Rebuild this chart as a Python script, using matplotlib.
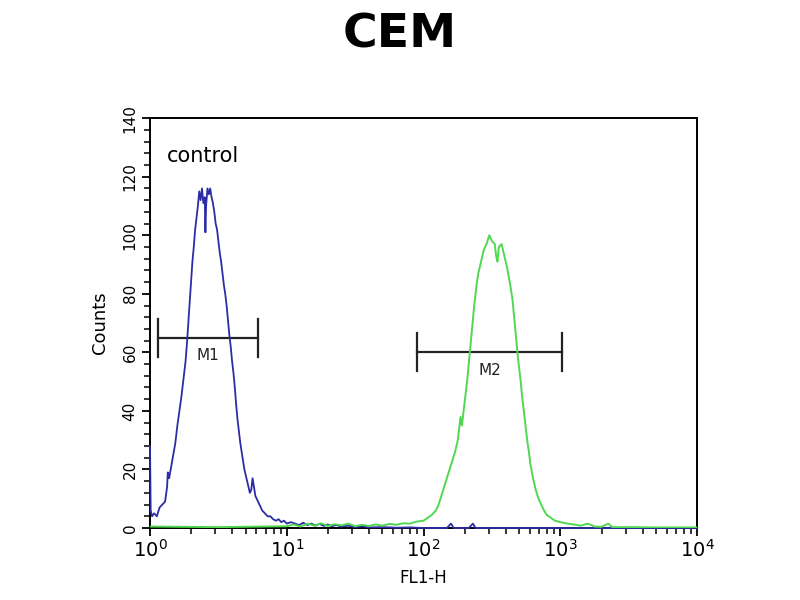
import matplotlib
matplotlib.use('Agg')
import matplotlib.pyplot as plt
import numpy as np
from matplotlib.ticker import MultipleLocator, LogLocator, NullFormatter

plt.rcParams['font.family'] = ['DejaVu Sans']

# control histogram (blue): log10(FL1-H) position and counts
blue_log = [0.000, 0.005, 0.015, 0.03, 0.05, 0.07, 0.09, 0.11, 0.125, 0.13, 0.14, 0.155, 0.17, 0.185,
            0.20, 0.215, 0.23, 0.245, 0.26, 0.27, 0.28, 0.29, 0.30, 0.31, 0.32, 0.33, 0.34, 0.35,
            0.36, 0.37, 0.38, 0.39, 0.40, 0.405, 0.41, 0.42, 0.43, 0.44, 0.45, 0.46, 0.47, 0.48,
            0.49, 0.50, 0.51, 0.52, 0.53, 0.54, 0.55, 0.56, 0.57, 0.58, 0.59, 0.60, 0.61, 0.62,
            0.63, 0.64, 0.65, 0.66, 0.67, 0.68, 0.69, 0.70, 0.71, 0.72, 0.73, 0.74, 0.75, 0.76,
            0.77, 0.78, 0.79, 0.80, 0.82, 0.84, 0.86, 0.88, 0.90, 0.92, 0.94, 0.96, 0.98, 1.00,
            1.03, 1.06, 1.09, 1.12, 1.15, 1.18, 1.21, 1.24, 1.27, 1.30, 1.33, 1.36, 1.40, 1.45,
            1.50, 1.55, 1.60, 1.70, 1.80, 1.90, 2.00, 2.17, 2.20, 2.22, 2.33, 2.36, 2.38, 3.00, 4.00]
blue_counts = [28, 6, 4, 5, 4, 7, 8, 9, 14, 19, 17, 21, 25, 29,
               35, 40, 45, 51, 57, 63, 70, 77, 84, 91, 96, 102, 106, 110,
               115, 112, 116, 111, 113, 101, 110, 116, 114, 116, 113, 111, 108, 104,
               102, 98, 94, 91, 87, 83, 80, 76, 71, 66, 62, 57, 53, 48,
               42, 37, 33, 29, 26, 23, 20, 18, 16, 14, 12, 13, 17, 14,
               11, 10, 9, 8, 6, 5, 4, 4, 3, 2.5, 3, 2, 2.5, 1.5,
               2, 1.5, 1, 1.8, 1, 1.5, 0.8, 1.4, 0.7, 1.2, 0.6, 1.0, 0.5, 0.8,
               0.3, 0.6, 0.2, 0.3, 0.1, 0.2, 0, 0, 1.5, 0, 0, 1.5, 0, 0, 0]

# stained sample histogram (green)
green_log = [0.00, 0.50, 1.00, 1.05, 1.10, 1.15, 1.20, 1.25, 1.30, 1.35, 1.40, 1.45, 1.50, 1.55,
             1.60, 1.65, 1.70, 1.75, 1.80, 1.85, 1.90, 1.95, 2.00, 2.03, 2.06, 2.09, 2.11, 2.13,
             2.15, 2.17, 2.19, 2.21, 2.23, 2.25, 2.26, 2.27, 2.28, 2.29, 2.30, 2.31, 2.32, 2.33,
             2.34, 2.35, 2.36, 2.37, 2.38, 2.39, 2.40, 2.42, 2.44, 2.46, 2.48, 2.50, 2.52, 2.53,
             2.54, 2.55, 2.57, 2.59, 2.61, 2.63, 2.65, 2.66, 2.67, 2.68, 2.69, 2.70, 2.71, 2.72,
             2.73, 2.74, 2.75, 2.76, 2.77, 2.78, 2.80, 2.82, 2.84, 2.86, 2.88, 2.90, 2.93, 2.96,
             3.00, 3.05, 3.10, 3.15, 3.20, 3.25, 3.30, 3.35, 3.38, 3.50, 3.70, 4.00]
green_counts = [0.5, 0.3, 0.6, 1.2, 0.5, 1.5, 0.8, 1.6, 0.7, 1.3, 0.9, 1.5, 0.6, 1.1,
                0.7, 1.2, 0.8, 1.4, 1.1, 1.6, 1.5, 2.2, 2.5, 3.5, 4.5, 6, 8, 11,
                14, 17, 20, 23, 26, 30, 34, 38, 35, 39, 43, 47, 51, 56,
                61, 66, 71, 76, 80, 84, 87, 91, 95, 97, 100, 98, 97, 93,
                91, 96, 97, 93, 89, 84, 78, 73, 68, 63, 58, 54, 50, 45,
                41, 37, 33, 29, 26, 22, 17, 13, 10, 8, 6, 4.5, 3.5, 2.5,
                2, 1.5, 1.2, 0.8, 1.5, 0.5, 0.4, 1.5, 0.3, 0.3, 0.2, 0.2]

# marker gates
gate_names = ['M1', 'M2']
gate_left = [1.15, 90]
gate_right = [6.2, 1020]
gate_level = [65, 60]

fig = plt.figure(figsize=(8, 6), dpi=100)
ax = fig.add_axes([0.1875, 0.12, 0.684, 0.683])

ax.plot(10 ** np.array(blue_log), blue_counts, color='#2c2ca6', lw=1.3, zorder=3, clip_on=False)
ax.plot(10 ** np.array(green_log), green_counts, color='#50d850', lw=1.4, zorder=3.1)

for name, lo, hi, lev in zip(gate_names, gate_left, gate_right, gate_level):
    ax.plot([lo, hi], [lev, lev], color='#222222', lw=1.6)
    ax.plot([lo, lo], [lev - 6.5, lev + 6.5], color='#222222', lw=1.6)
    ax.plot([hi, hi], [lev - 6.5, lev + 6.5], color='#222222', lw=1.6)
    ax.text(np.sqrt(lo * hi), lev - 3.5, name, ha='center', va='top', fontsize=11, color='#222222')

ax.text(1.33, 127, 'control', fontsize=15, va='center', ha='left')

ax.set_xscale('log')
ax.set_xlim(1, 1e4)
ax.set_ylim(0, 140)
ax.yaxis.set_major_locator(MultipleLocator(20))
ax.yaxis.set_minor_locator(MultipleLocator(4))
ax.xaxis.set_major_locator(LogLocator(base=10))
ax.xaxis.set_minor_locator(LogLocator(base=10, subs=np.arange(2, 10)))
ax.xaxis.set_minor_formatter(NullFormatter())
ax.tick_params(axis='both', which='major', direction='out', length=6, width=1.3)
ax.tick_params(axis='both', which='minor', direction='out', length=4, width=1.1)
ax.tick_params(axis='x', labelsize=14, pad=2)
ax.tick_params(axis='y', labelsize=11, labelrotation=90, pad=3)
for lab in ax.get_yticklabels():
    lab.set_va('center')

for sp in ax.spines.values():
    sp.set_linewidth(1.4)

ax.set_xlabel('FL1-H', fontsize=12, labelpad=6)
ax.set_ylabel('Counts', fontsize=13, labelpad=10)
fig.suptitle('CEM', fontsize=34, fontweight='bold', y=0.98)

plt.savefig('out.png')
